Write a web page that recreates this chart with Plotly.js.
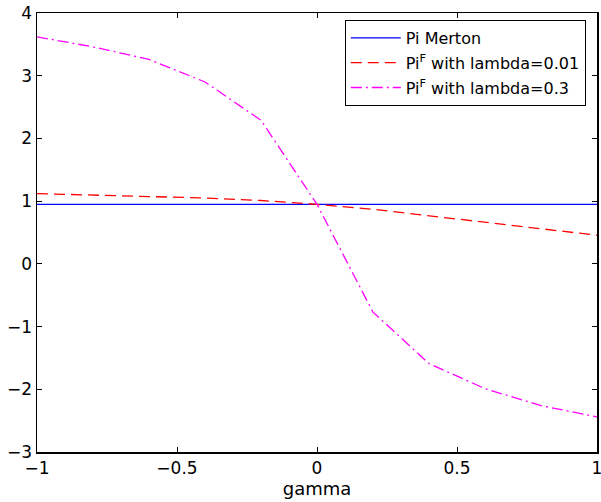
<!DOCTYPE html>
<html>
<head>
<meta charset="utf-8">
<script src="https://cdn.plot.ly/plotly-3.0.1.min.js"></script>
<style>html,body{margin:0;padding:0;background:#fff;}#chart{width:601px;height:502px;}</style>
</head>
<body>
<div id="chart"></div>
<script>
// Data
var gammaMerton = [-1, 1];
var piMerton = [0.95, 0.95];

var gammaSmall = [-1, -0.8, -0.6, -0.4, -0.2, 0, 0.2, 0.4, 0.6, 0.8, 1];
var piFSmall = [1.12, 1.10, 1.08, 1.05, 1.01, 0.95, 0.87, 0.77, 0.67, 0.56, 0.456];

var gammaLarge = [-1, -0.8, -0.6, -0.4, -0.2, 0, 0.2, 0.4, 0.6, 0.8, 1];
var piFLarge = [3.62, 3.46, 3.26, 2.90, 2.29, 0.95, -0.77, -1.59, -1.99, -2.26, -2.44];

var seriesNames = ['Pi Merton', 'Pi<sup>F</sup> with lambda=0.01', 'Pi<sup>F</sup> with lambda=0.3'];
var xTicks = [-1, -0.5, 0, 0.5, 1];
var xTickLabels = ['\u22121', '\u22120.5', '0', '0.5', '1'];
var yTicks = [-3, -2, -1, 0, 1, 2, 3, 4];
var yTickLabels = ['\u22123', '\u22122', '\u22121', '0', '1', '2', '3', '4'];

var FONT = 'DejaVu Sans, Liberation Sans, Arial, sans-serif';

var traces = [
  {x: gammaMerton, y: piMerton, mode: 'lines', name: seriesNames[0], legendgroup: 'a',
   line: {color: '#0000ff', width: 1.3}},
  {x: gammaSmall, y: piFSmall, mode: 'lines', name: seriesNames[1], legendgroup: 'b',
   line: {color: '#ff0000', width: 1.3, dash: '11px,6px'}},
  {x: gammaLarge, y: piFLarge, mode: 'lines', name: seriesNames[2], legendgroup: 'c',
   line: {color: '#ff00ff', width: 1.3, dash: '11px,4px,2px,4px'}}
];

var axisCommon = {
  showgrid: false, zeroline: false, showline: true, linecolor: '#000', linewidth: 1.5,
  mirror: 'ticks', ticks: 'inside', ticklen: 5, tickwidth: 1, tickcolor: '#000',
  ticklabeloverflow: 'allow',
  tickfont: {family: FONT, size: 17, color: '#000'}
};

var layout = {
  width: 601, height: 502,
  margin: {l: 37, r: 4, t: 13, b: 50},
  paper_bgcolor: '#fff', plot_bgcolor: '#fff',
  font: {family: FONT, color: '#000'},
  xaxis: Object.assign({}, axisCommon, {
    range: [-1, 1], tickvals: xTicks, ticktext: xTickLabels,
    title: {text: 'gamma', font: {family: FONT, size: 18, color: '#000'}, standoff: 0}
  }),
  yaxis: Object.assign({}, axisCommon, {
    range: [-3, 4], tickvals: yTicks, ticktext: yTickLabels
  }),
  showlegend: true,
  legend: {
    x: 0.98, xanchor: 'right', y: 0.984, yanchor: 'top',
    bgcolor: '#fff', bordercolor: '#000', borderwidth: 1,
    font: {family: FONT, size: 16, color: '#000'},
    tracegroupgap: 1, itemwidth: 50
  }
};

Plotly.newPlot('chart', traces, layout, {displayModeBar: false, staticPlot: true});
</script>
</body>
</html>
